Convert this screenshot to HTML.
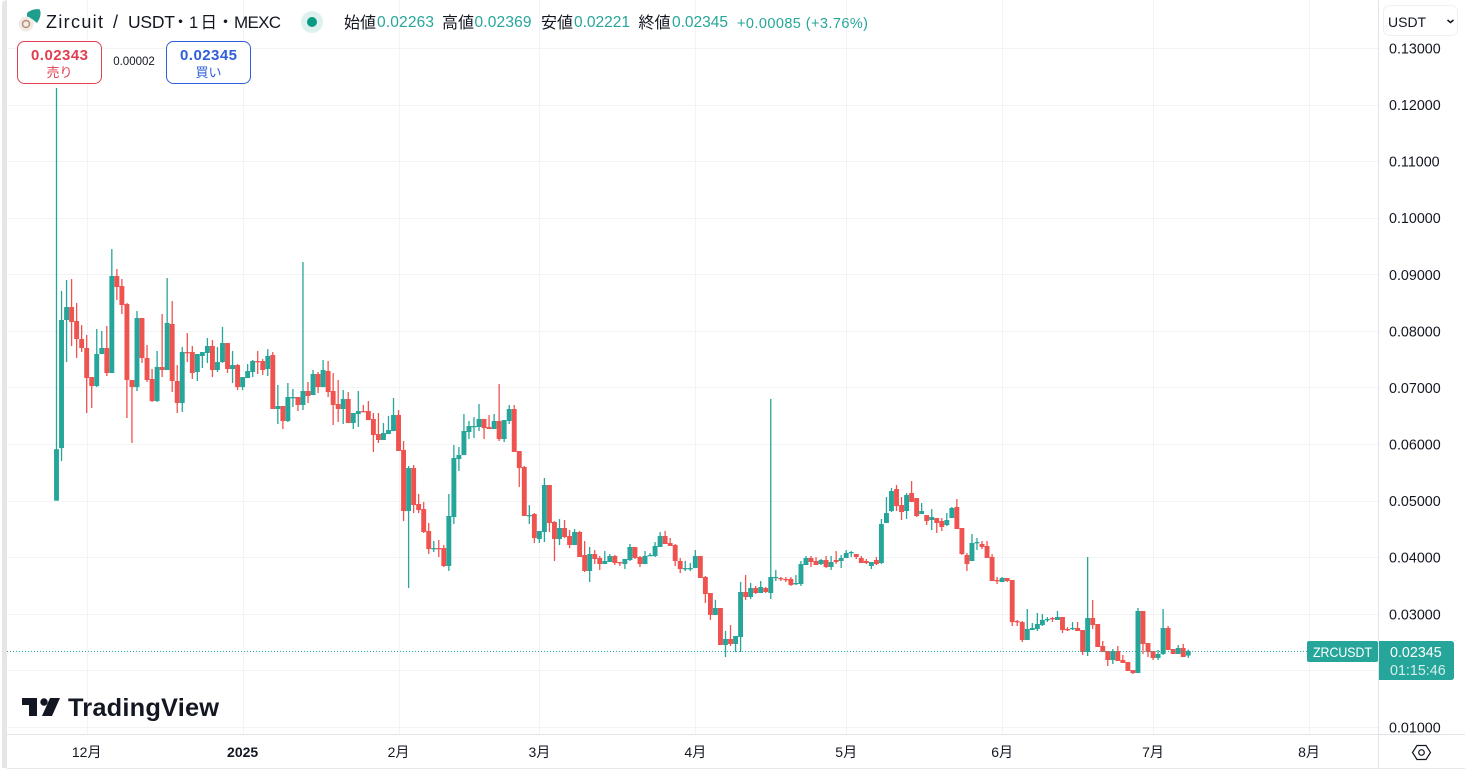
<!DOCTYPE html>
<html lang="ja">
<head>
<meta charset="utf-8">
<title>ZRCUSDT chart</title>
<style>
html,body{margin:0;padding:0;background:#fff;width:1465px;height:777px;overflow:hidden}
svg{display:block}
text{font-family:"Liberation Sans","Noto Sans CJK JP",sans-serif}
</style>
</head>
<body>
<svg id="chart" width="1465" height="777" viewBox="0 0 1465 777" xmlns="http://www.w3.org/2000/svg">
  <rect x="0" y="0" width="1465" height="777" fill="#ffffff"/>
  <path d="M2 768V5Q2 0 7 0V768Z" fill="#e6e6e7"/>
  <g id="grid"></g>
  <g id="candles"></g>
  <line id="lastLine" x1="7" x2="1307" stroke="#26a69a" stroke-width="1" stroke-dasharray="1 2"/>

  <rect x="7" y="735" width="1458" height="33" fill="#ffffff"/>
  <rect x="1379" y="0" width="86" height="734" fill="#ffffff"/>
  <line x1="7" x2="1465" y1="734.5" y2="734.5" stroke="#e0e3e8"/>
  <line x1="7" x2="1465" y1="768.5" y2="768.5" stroke="#e6e8ec"/>
  <line x1="1378.5" x2="1378.5" y1="0" y2="768" stroke="#e0e3e8"/>
  <g id="yLabels"></g>
  <g id="xLabels"></g>

  <g>
    <path d="M27 13Q33 8 40 9.500Q42 16 37 23L32 19L27 17Z" fill="#1f9d8d"/>
    <circle cx="26" cy="24" r="7.500" fill="#f0ebe4"/>
    <circle cx="26" cy="24" r="3.500" fill="none" stroke="#b98f76" stroke-width="1.500"/>
  </g>
  <text x="46" y="28" font-size="18" fill="#131722" textLength="57">Zircuit</text>
  <text x="113" y="28" font-size="18" fill="#131722">/</text>
  <text x="128" y="28" font-size="17.500" fill="#131722" textLength="47">USDT</text>
  <text x="172" y="28" font-size="17" fill="#131722">・</text>
  <text x="189" y="28" font-size="16.500" fill="#131722" textLength="28">1日</text>
  <text x="217" y="28" font-size="17" fill="#131722">・</text>
  <text x="234" y="28" font-size="17" fill="#131722" textLength="47">MEXC</text>
  <circle cx="312" cy="22" r="11" fill="#dff1ee"/>
  <circle cx="312" cy="22" r="5" fill="#089981"/>

  <g font-size="15.500">
    <text x="344" y="28" fill="#131722" font-size="16">始値</text>
    <text x="377" y="27" fill="#26a69a" textLength="57">0.02263</text>
    <text x="442" y="28" fill="#131722" font-size="16">高値</text>
    <text x="474.500" y="27" fill="#26a69a" textLength="57">0.02369</text>
    <text x="541" y="28" fill="#131722" font-size="16">安値</text>
    <text x="574" y="27" fill="#26a69a" textLength="56">0.02221</text>
    <text x="638.500" y="28" fill="#131722" font-size="16">終値</text>
    <text x="672" y="27" fill="#26a69a" textLength="56">0.02345</text>
    <text x="737" y="28" fill="#26a69a" font-size="14.500" textLength="131">+0.00085 (+3.76%)</text>
  </g>

  <g>
    <rect x="17.500" y="41.500" width="84" height="42" rx="7" fill="#ffffff" stroke="#e0404f"/>
    <text x="59.500" y="60" text-anchor="middle" font-size="15" font-weight="700" fill="#e0404f" textLength="57">0.02343</text>
    <text x="59.500" y="77" text-anchor="middle" font-size="13" fill="#e0404f">売り</text>
  </g>
  <text x="134" y="65" text-anchor="middle" font-size="11.500" fill="#131722">0.00002</text>
  <g>
    <rect x="166.500" y="41.500" width="84" height="42" rx="7" fill="#ffffff" stroke="#2f5fd8"/>
    <text x="208.500" y="60" text-anchor="middle" font-size="15" font-weight="700" fill="#2f5fd8" textLength="57">0.02345</text>
    <text x="208.500" y="77" text-anchor="middle" font-size="13" fill="#2f5fd8">買い</text>
  </g>

  <g>
    <rect x="1383.500" y="5.500" width="74" height="30" rx="6" fill="#ffffff" stroke="#eef0f4"/>
    <text x="1388" y="27" font-size="14" fill="#131722">USDT</text>
    <path d="M1447.500 20L1450.500 22.500L1453.500 20" fill="none" stroke="#131722" stroke-width="1.500"/>
  </g>

  <rect x="1307" y="641" width="71" height="21" rx="2" fill="#26a69a"/>
  <text x="1313" y="657" font-size="14" fill="#ffffff" textLength="59" lengthAdjust="spacingAndGlyphs">ZRCUSDT</text>
  <path d="M1379 641H1451Q1454 641 1454 644V677Q1454 680 1451 680H1379Z" fill="#26a69a"/>
  <text x="1390" y="657" font-size="14.300" fill="#ffffff">0.02345</text>
  <text x="1390" y="675" font-size="14.300" fill="#d4eeeb">01:15:46</text>

  <g>
    <path d="M22 698H37V716H29V705H22Z" fill="#131722"/>
    <circle cx="44" cy="702" r="3.700" fill="#131722"/>
    <path d="M50 698H60L52 716H42Z" fill="#131722"/>
    <text x="68" y="716" font-size="25.400" font-weight="700" fill="#131722" textLength="151">TradingView</text>
  </g>

  <g>
    <path d="M1412.500 752.500L1417 745.500H1426L1430.500 752.500L1426 759.500H1417Z" fill="none" stroke="#131722" stroke-width="1.200"/>
    <circle cx="1421.500" cy="752.500" r="2.800" fill="none" stroke="#131722" stroke-width="1.200"/>
  </g>
</svg>
<script>
// Prices are expressed in units of 0.00001 USDT.
const opens=[5000,5930,8193,8422,8175,7857,7698,7185,7026,7592,
7698,7256,8970,8793,8475,7132,7008,8228,7521,7150,
6761,7362,7309,8122,7115,6726,7627,7627,7274,7557,
7610,7733,7309,7450,7786,7327,7397,7008,7167,7274,
7468,7468,7327,7574,6620,6673,6408,6814,6832,6691,
6938,6867,7238,7008,7291,6938,6708,6620,6797,6372,
6531,6584,6584,6443,6178,6072,6178,6231,6514,5895,
4817,5577,4941,4852,4464,4145,4163,4163,3845,4711,
5736,5807,6213,6302,6302,6443,6302,6266,6408,6089,
6408,6620,5878,5595,4729,4764,4322,4446,5277,4623,
4322,4517,4375,4216,4446,4040,3757,4057,3987,3880,
3916,4022,3916,3880,3951,4181,4004,3880,4022,4022,
4181,4375,4252,4216,3934,3792,3792,3809,4022,3651,
3368,2980,3103,2449,2555,2467,2590,3386,3297,3456,
3368,3456,3368,3633,3633,3616,3616,3527,3527,3863,
3987,3934,3880,3951,3827,3951,3934,3987,4075,4057,
3987,3934,3845,3951,3898,4605,4817,5206,4923,4817,
5135,5047,4764,4746,4658,4693,4640,4570,4693,4888,
4517,4040,3934,4252,4234,4199,4004,3598,3562,3633,
3598,2873,2855,2537,2714,2732,2802,2891,2926,2891,
2944,2732,2732,2750,2714,2325,2926,2820,2431,2343,
2184,2343,2184,2149,2007,1954,3050,2484,2343,2219,
2290,2750,2378,2290,2396,2263];
const highs=[12293,8705,8899,8917,8493,8104,7928,7185,8034,7998,
8087,9447,9094,8917,8493,7132,8352,8228,7751,7327,
7645,8299,8935,8528,7397,7715,7963,7733,7592,7627,
7874,7839,7715,8069,7786,7645,7415,7185,7415,7486,
7645,7503,7680,7627,7044,6673,7079,6973,6832,9218,
7097,7309,7274,7486,7468,7256,7132,6955,6920,6549,
6938,6691,6761,6549,6549,6372,6496,6814,6602,6054,
5613,5630,5118,4976,4605,4287,4305,4216,5118,5984,
5948,6531,6408,6478,6708,6443,6514,6531,7061,6425,
6691,6691,5878,5613,4923,4782,4464,5400,5277,4640,
4676,4658,4481,4499,4464,4287,4181,4128,4022,4110,
4057,4040,3916,3969,4234,4181,4022,4110,4075,4269,
4446,4464,4340,4234,3987,3934,3898,4128,4022,3669,
3368,3244,3103,2697,2802,2608,3562,3686,3545,3492,
3580,3474,6797,3774,3651,3651,3651,3686,3934,4022,
4022,4004,3969,4022,4022,4110,4040,4128,4110,4057,
4022,3969,3916,4004,4676,5064,5224,5277,5064,5135,
5347,5047,4959,4746,4852,4693,4693,4782,4888,5029,
4517,4075,4410,4340,4287,4287,4057,3651,3651,3633,
3598,2891,2873,3085,2838,3015,2997,2944,2944,3050,
2944,2767,2855,2855,2714,4004,3244,2820,2520,2343,
2378,2431,2272,2149,2007,3103,3050,2484,2343,2361,
3085,2785,2378,2449,2467,2369];
const lows=[5000,5700,7450,7733,7521,7627,6549,6637,7008,7592,
7203,7256,8546,8299,6461,6019,6938,7433,7097,6743,
6743,7185,7309,6920,6549,6567,7450,7150,7115,7344,
7433,7185,7274,7433,7256,7079,6955,6955,7167,7185,
7238,7221,7203,6620,6355,6266,6390,6655,6584,6602,
6726,6867,6902,7008,6832,6337,6390,6355,6372,6266,
6302,6567,6425,5860,6019,6072,6178,6231,5878,4640,
3457,4782,4782,4428,4057,4092,4004,3827,3757,4587,
5524,5807,6089,6107,6231,6089,6266,6266,6054,6036,
6355,5860,5241,4729,4587,4252,4252,4269,4446,3934,
4216,4340,4163,4216,4004,3739,3562,3880,3774,3880,
3916,3863,3845,3792,3934,3969,3827,3880,4022,4004,
4181,4234,4199,3845,3721,3757,3757,3809,3633,3191,
2891,2980,2449,2237,2431,2325,2325,3244,3262,3350,
3368,3368,3262,3580,3580,3562,3492,3510,3492,3863,
3827,3863,3863,3809,3774,3880,3809,3987,4004,3969,
3898,3880,3792,3863,3880,4605,4799,4817,4658,4676,
4976,4711,4764,4570,4481,4428,4464,4552,4693,4499,
4040,3757,3934,4128,4145,3987,3580,3527,3562,3562,
2785,2785,2502,2537,2714,2696,2785,2855,2855,2891,
2661,2696,2714,2696,2272,2254,2732,2414,2325,2078,
2113,2166,2131,1990,1936,1954,2290,2237,2184,2184,
2272,2361,2290,2290,2237,2221];
const closes=[5910,8193,8422,8158,7857,7698,7167,7026,7592,7698,
7256,8970,8776,8458,7132,7008,8228,7521,7132,6761,
7362,7309,8140,7115,6726,7627,7610,7256,7592,7627,
7733,7309,7450,7786,7327,7397,7008,7185,7291,7468,
7450,7309,7557,6620,6673,6408,6832,6832,6691,6938,
6850,7238,7008,7309,6920,6691,6620,6797,6372,6549,
6584,6567,6425,6160,6072,6196,6249,6514,5878,4817,
5577,4923,4835,4446,4145,4163,4145,3845,4729,5754,
5807,6231,6319,6319,6443,6284,6266,6408,6089,6425,
6620,5860,5577,4729,4746,4340,4464,5277,4605,4322,
4517,4358,4216,4446,4004,3757,4057,3969,3880,3934,
4022,3898,3898,3969,4181,3987,3880,4022,4040,4199,
4375,4234,4199,3934,3792,3809,3809,4022,3633,3350,
2980,3103,2449,2555,2467,2608,3386,3297,3456,3368,
3474,3386,3651,3651,3616,3598,3510,3545,3880,3987,
3916,3863,3951,3827,3916,3916,3987,4075,4092,4004,
3898,3898,3916,3880,4587,4782,5171,4905,4799,5100,
4976,4729,4817,4640,4711,4605,4534,4658,4870,4499,
4057,3880,4252,4269,4181,3987,3580,3580,3633,3580,
2855,2855,2537,2732,2750,2820,2891,2909,2909,2944,
2714,2714,2750,2696,2325,2926,2802,2414,2325,2184,
2343,2166,2131,1990,1954,3050,2467,2325,2219,2290,
2750,2361,2290,2396,2237,2345];
const priceTicks=[13000,12000,11000,10000,9000,8000,7000,6000,5000,4000,3000,2000,1000];
const priceTickLabels=['0.13000','0.12000','0.11000','0.10000','0.09000','0.08000','0.07000','0.06000','0.05000','0.04000','0.03000','0.02000','0.01000'];
const monthTickIndexes=[6,37,68,96,127,157,188,218,249];
const monthTickLabels=['12月','2025','2月','3月','4月','5月','6月','7月','8月'];

const NS='http://www.w3.org/2000/svg';
const UP='#26a69a';
const DOWN='#ef5350';
function xAt(i){return 56.5+5.03*i;}
function yAt(v){return 48+(13000-v)*0.056583;}
function make(tag,parent){const el=document.createElementNS(NS,tag);parent.appendChild(el);return el;}

const gridG=document.getElementById('grid');
priceTicks.forEach(function(v){
  const gl=make('line',gridG);
  
  
  const y=Math.round(yAt(v))+0.5;
  gl.setAttribute('x1','7');gl.setAttribute('x2','1378');gl.setAttribute('y1',y);gl.setAttribute('y2',y);
  gl.setAttribute('stroke','#f2f3f5');
});
monthTickIndexes.forEach(function(i){
  const gl=make('line',gridG);
  
  
  const x=Math.round(xAt(i))+0.5;
  gl.setAttribute('x1',x);gl.setAttribute('x2',x);gl.setAttribute('y1','0');gl.setAttribute('y2','734');
  gl.setAttribute('stroke','#f2f3f5');
});

const candleG=document.getElementById('candles');
opens.forEach(function(o,i){
  const c=closes[i];
  const color=c>=o?UP:DOWN;
  const g=make('g',candleG);
  
  
  const wick=make('rect',g);
  
  
  wick.setAttribute('x',xAt(i)-0.65);
  wick.setAttribute('width','1.3');
  wick.setAttribute('y',yAt(highs[i]));
  wick.setAttribute('height',Math.max(1,yAt(lows[i])-yAt(highs[i])));
  wick.setAttribute('fill',color);
  const body=make('rect',g);
  
  
  const top=Math.min(yAt(o),yAt(c));
  body.setAttribute('x',xAt(i)-2.45);
  body.setAttribute('width','4.9');
  body.setAttribute('y',top);
  body.setAttribute('height',Math.max(1.3,Math.abs(yAt(o)-yAt(c))));
  body.setAttribute('fill',color);
});

const lastY=Math.round(yAt(closes[closes.length-1]))+0.5;
const lastLine=document.getElementById('lastLine');
lastLine.setAttribute('y1',lastY);
lastLine.setAttribute('y2',lastY);

const yG=document.getElementById('yLabels');
priceTicks.forEach(function(v,k){
  const t=make('text',yG);
  
  
  t.setAttribute('x','1389');
  t.setAttribute('y',yAt(v)+5.5);
  t.setAttribute('font-size','14.3');
  t.setAttribute('fill','#131722');
  t.textContent=priceTickLabels[k];
});

const xG=document.getElementById('xLabels');
monthTickIndexes.forEach(function(i,k){
  const t=make('text',xG);
  
  
  t.setAttribute('x',xAt(i));
  t.setAttribute('y','757');
  t.setAttribute('text-anchor','middle');
  t.setAttribute('font-size','14');
  t.setAttribute('fill','#131722');
  if(monthTickLabels[k]==='2025'){t.setAttribute('font-weight','700');}
  t.textContent=monthTickLabels[k];
});
</script>
</body>
</html>
